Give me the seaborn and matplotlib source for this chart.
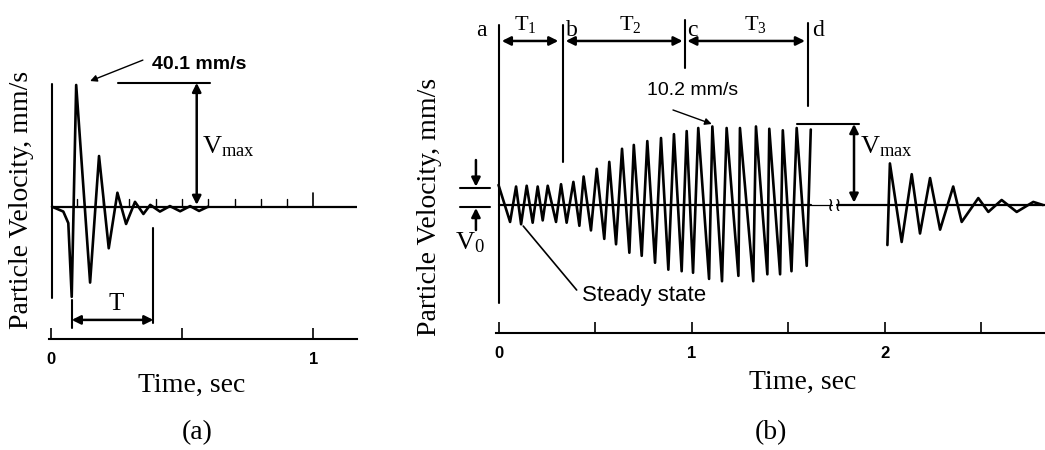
import numpy as np
import pandas as pd
import matplotlib.pyplot as plt
import seaborn as sns

# (a) single blast: turning points of the trace (time s, velocity mm/s)
blast_t = [0.005, 0.048, 0.067, 0.080, 0.097, 0.150, 0.184, 0.221, 0.254, 0.287,
           0.321, 0.353, 0.379, 0.416, 0.454, 0.493, 0.531, 0.565, 0.599]
blast_v = [0.0, -1.6, -5.4, -29.7, 40.1, -25.0, 16.7, -13.7, 4.6, -5.7,
           1.6, -2.4, 0.6, -1.6, 0.2, -1.5, 0.2, -1.4, 0.0]

# (b) machine vibration: steady state, build-up, resonance (turning points)
run_t = [0.000, 0.060, 0.091, 0.117, 0.146, 0.177, 0.203, 0.229, 0.255, 0.298,
         0.324, 0.353, 0.388, 0.419, 0.441, 0.479, 0.509, 0.548, 0.574, 0.609,
         0.640, 0.678, 0.701, 0.742, 0.771, 0.811, 0.842, 0.880, 0.909, 0.949,
         0.975, 1.008, 1.035, 1.091, 1.108, 1.158, 1.182, 1.243, 1.251, 1.320,
         1.334, 1.393, 1.403, 1.459, 1.473, 1.518, 1.545, 1.597, 1.618]
run_v = [2.6, -2.2, 2.4, -2.5, 2.5, -2.3, 2.4, -2.0, 2.5, -2.2,
         2.7, -2.3, 3.0, -2.7, 3.7, -3.3, 4.7, -4.4, 5.6, -5.1,
         7.3, -6.2, 7.8, -6.6, 8.3, -7.5, 8.7, -8.4, 9.2, -8.6,
         9.6, -8.8, 10.0, -9.6, 10.2, -9.9, 10.0, -9.2, 10.0, -9.9,
         10.2, -9.0, 9.9, -9.0, 9.7, -8.6, 10.0, -7.9, 9.8]

# (b) free decay after shutdown
decay_t = [2.015, 2.028, 2.089, 2.141, 2.184, 2.236, 2.288, 2.356, 2.400, 2.486,
           2.538, 2.607, 2.685, 2.771, 2.821]
decay_v = [-5.2, 5.4, -4.8, 4.0, -3.7, 3.5, -3.2, 2.4, -2.2, 0.9,
           -0.9, 0.65, -0.9, 0.4, 0.0]

ticks_a = [0, 0.5, 1]
ticklabels_a = ["0", "", "1"]
ticks_b = [0, 0.5, 1, 1.5, 2, 2.5]
ticklabels_b = ["0", "", "1", "", "2", ""]

sns.set_theme(style="white")
plt.rcParams["font.family"] = ["Liberation Serif", "DejaVu Serif"]
plt.rcParams["mathtext.fontset"] = "custom"
plt.rcParams["mathtext.rm"] = "Liberation Serif"
plt.rcParams["mathtext.it"] = "Liberation Serif:italic"
plt.rcParams["text.color"] = "black"
plt.rcParams["xtick.color"] = "black"
plt.rcParams["axes.edgecolor"] = "black"

SERIF = "Liberation Serif"
SANS = "Liberation Sans"
W, H = 1045, 450

fig = plt.figure(figsize=(W / 100, H / 100), dpi=100)
fig.patch.set_facecolor("white")


def fx(px):
    return px / W


def fy(py):
    return 1 - py / H


ax_a = fig.add_axes([fx(49), fy(339.3), fx(357) - fx(49), 339.3 / H])
ax_b = fig.add_axes([fx(496), fy(333.3), 1 - fx(496), 333.3 / H])
ax_a.set_xlim(-0.0065, 1.1664)
ax_a.set_ylim(-43.69, 68.1)
ax_b.set_xlim(-0.013, 2.8316)
ax_b.set_ylim(-16.66, 26.62)

for ax, ticks, labels in [(ax_a, ticks_a, ticklabels_a), (ax_b, ticks_b, ticklabels_b)]:
    ax.set_facecolor("none")
    for side in ["top", "left", "right"]:
        ax.spines[side].set_visible(False)
    ax.spines["bottom"].set_color("black")
    ax.spines["bottom"].set_linewidth(1.5)
    ax.set_yticks([])
    ax.set_xticks(ticks)
    ax.set_xticklabels(labels, fontfamily=SANS, fontweight="bold", fontsize=12)
    ax.tick_params(axis="x", direction="in", length=8, width=1.2, color="black",
                   labelcolor="black", pad=9, bottom=True)
    ax.grid(False)

LW = 1.9
wave = dict(color="black", linewidth=LW, sort=False, estimator=None)
dbl = dict(arrowstyle="<|-|>", mutation_scale=13, lw=1.8, color="black",
           shrinkA=0, shrinkB=0)
one = dict(arrowstyle="-|>", mutation_scale=13, lw=1.8, color="black",
           shrinkA=0, shrinkB=0)
ptr = dict(arrowstyle="-|>", mutation_scale=10, lw=1.0, color="black",
           shrinkA=0, shrinkB=0)

# ---------------- panel (a) ----------------
sns.lineplot(x=blast_t, y=blast_v, ax=ax_a, **wave)
ax_a.plot([0.004, 1.166], [0, 0], color="black", lw=1.6)
for t in np.arange(1, 10) / 10:
    ax_a.plot([t, t], [0, 2.4], color="black", lw=1.0)
ax_a.plot([1.0, 1.0], [0, 4.4], color="black", lw=1.2)
ax_a.plot([0.0038, 0.0038], [-30.1, 40.4], color="black", lw=1.5, clip_on=False)

ax_a.plot([0.256, 0.607], [40.8, 40.8], color="black", lw=1.5)
ax_a.annotate("", xy=(0.556, 0.6), xytext=(0.556, 40.8), arrowprops=dbl)
ax_a.text(0.575, 19.7, r"$\mathrm{V_{max}}$", fontsize=19, ha="left", va="center")
ax_a.text(0.565, 46.8, "40.1 mm/s", family=SANS, fontweight="bold", fontsize=14,
          ha="center", va="center")
ax_a.annotate("", xy=(0.150, 41.4), xytext=(0.351, 48.3), arrowprops=ptr)

ax_a.plot([0.080, 0.080], [-30.7, -40.0], color="black", lw=1.5)
ax_a.plot([0.391, 0.391], [-7.0, -38.3], color="black", lw=1.5)
ax_a.annotate("", xy=(0.391, -37.3), xytext=(0.080, -37.3), arrowprops=dbl)
ax_a.text(0.251, -32.2, "T", fontsize=18, ha="center", va="center")

# ---------------- panel (b) ----------------
sns.lineplot(x=run_t, y=run_v, ax=ax_b, **wave)
sns.lineplot(x=decay_t, y=decay_v, ax=ax_b, **wave)
for ln in ax_a.lines[:1] + ax_b.lines[:2]:
    ln.set_solid_joinstyle("round")
ax_b.plot([0.0026, 1.62], [0, 0], color="black", lw=1.6)
ax_b.plot([1.62, 1.726], [0, 0], color="black", lw=0.9)
ax_b.plot([1.755, 2.84], [0, 0], color="black", lw=1.6)
# axis break mark
ax_b.text(1.740, 0, "\u2240\u2240", family="DejaVu Sans", fontsize=14,
          ha="center", va="center")

# phase markers a-d
ax_b.plot([0.0026, 0.0026], [-12.7, 23.4], color="black", lw=1.5, clip_on=False)
ax_b.plot([0.336, 0.336], [5.6, 23.4], color="black", lw=1.5)
ax_b.plot([0.966, 0.966], [17.75, 24.0], color="black", lw=1.5)
ax_b.plot([1.602, 1.602], [12.86, 23.6], color="black", lw=1.5)
for lab, t in [("a", -0.087), ("b", 0.379), ("c", 1.006), ("d", 1.655)]:
    ax_b.text(t, 22.6, lab, fontsize=17, ha="center", va="center", clip_on=False)
ax_b.annotate("", xy=(0.310, 21.3), xytext=(0.017, 21.3), arrowprops=dbl,
              annotation_clip=False)
ax_b.annotate("", xy=(0.954, 21.3), xytext=(0.348, 21.3), arrowprops=dbl)
ax_b.annotate("", xy=(1.588, 21.3), xytext=(0.978, 21.3), arrowprops=dbl)
ax_b.text(0.137, 23.5, r"$\mathrm{T_1}$", fontsize=16, ha="center", va="center")
ax_b.text(0.681, 23.5, r"$\mathrm{T_2}$", fontsize=16, ha="center", va="center")
ax_b.text(1.330, 23.5, r"$\mathrm{T_3}$", fontsize=16, ha="center", va="center")

# V0
ax_b.plot([-0.199, -0.044], [2.17, 2.17], color="black", lw=1.5, clip_on=False)
ax_b.plot([-0.199, -0.044], [-0.3, -0.3], color="black", lw=1.5, clip_on=False)
ax_b.annotate("", xy=(-0.117, 2.38), xytext=(-0.117, 5.84), arrowprops=one,
              annotation_clip=False)
ax_b.annotate("", xy=(-0.117, -0.39), xytext=(-0.117, -3.25), arrowprops=one,
              annotation_clip=False)
ax_b.text(-0.150, -4.9, r"$\mathrm{V_0}$", fontsize=19, ha="center", va="center",
          clip_on=False)

# steady state
ax_b.plot([0.128, 0.405], [-2.73, -11.04], color="black", lw=1.2)
ax_b.text(0.431, -11.7, "Steady state", family=SANS, fontsize=16, ha="left",
          va="center")

# peak annotation
ax_b.text(1.003, 14.9, "10.2 mm/s", family=SANS, fontsize=14, ha="center",
          va="center")
ax_b.annotate("", xy=(1.105, 10.52), xytext=(0.904, 12.34), arrowprops=ptr)

# Vmax
ax_b.plot([1.545, 1.869], [10.52, 10.52], color="black", lw=1.5)
ax_b.annotate("", xy=(1.842, 0.3), xytext=(1.842, 10.52), arrowprops=dbl)
ax_b.text(1.872, 7.6, r"$\mathrm{V_{max}}$", fontsize=19, ha="left", va="center")

# labels
fig.text(fx(21.7), fy(200), "Particle Velocity, mm/s", rotation=90, ha="center",
         va="center", family=SERIF, fontsize=20)
fig.text(fx(430), fy(207), "Particle Velocity, mm/s", rotation=90, ha="center",
         va="center", family=SERIF, fontsize=20)
fig.text(fx(192), fy(385), "Time, sec", ha="center", va="center", family=SERIF,
         fontsize=20)
fig.text(fx(803), fy(382), "Time, sec", ha="center", va="center", family=SERIF,
         fontsize=20)
fig.text(fx(197), fy(433), "(a)", ha="center", va="center", family=SERIF,
         fontsize=20)
fig.text(fx(771), fy(433), "(b)", ha="center", va="center", family=SERIF,
         fontsize=20)

fig.savefig("out.png", dpi=100, facecolor="white")
